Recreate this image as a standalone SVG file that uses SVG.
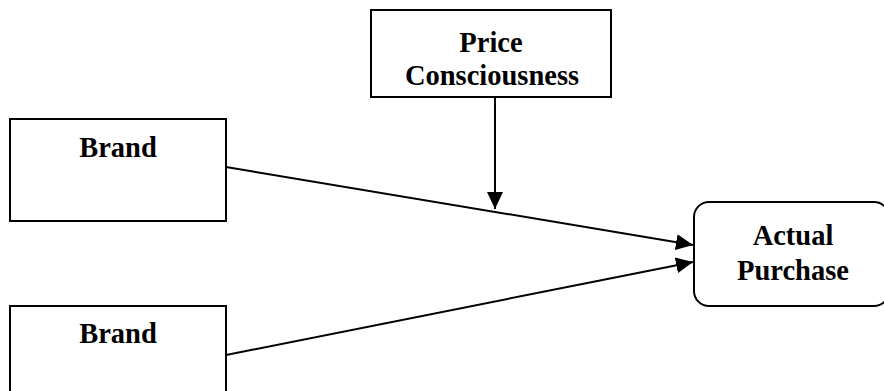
<svg xmlns="http://www.w3.org/2000/svg" width="884" height="391" viewBox="0 0 884 391">
<style>
.box{fill:#fff;stroke:#000;stroke-width:2}
.lbl{font-family:"Liberation Serif","Times New Roman",serif;font-weight:bold;font-size:28.5px;fill:#000;text-anchor:middle}
.con{stroke:#000;stroke-width:2;fill:none}
</style>
<defs>
<marker id="ah" markerUnits="userSpaceOnUse" markerWidth="18" markerHeight="16" refX="17" refY="8" orient="auto">
<path d="M0,0 L17,8 L0,16 Z" fill="#000"/>
</marker>
</defs>
<rect width="884" height="391" fill="#fff"/>
<g id="price">
<rect class="box" x="371" y="10" width="240" height="87"/>
<text class="lbl" x="491" y="52">Price</text>
<text class="lbl" x="492" y="85">Consciousness</text>
</g>
<g id="brand1">
<rect class="box" x="10" y="119" width="216" height="102"/>
<text class="lbl" x="118" y="157">Brand</text>
</g>
<g id="brand2">
<rect class="box" x="10" y="306" width="216" height="100"/>
<text class="lbl" x="118" y="343">Brand</text>
</g>
<g id="actual">
<rect class="box" x="694" y="202" width="195" height="104" rx="15"/>
<text class="lbl" x="793" y="245">Actual</text>
<text class="lbl" x="793" y="280">Purchase</text>
</g>
<g id="connectors">
<line class="con" x1="226" y1="167" x2="693" y2="245" marker-end="url(#ah)"/>
<line class="con" x1="226" y1="355" x2="693" y2="262" marker-end="url(#ah)"/>
<line class="con" x1="495" y1="97" x2="495" y2="209" marker-end="url(#ah)"/>
</g>
</svg>
